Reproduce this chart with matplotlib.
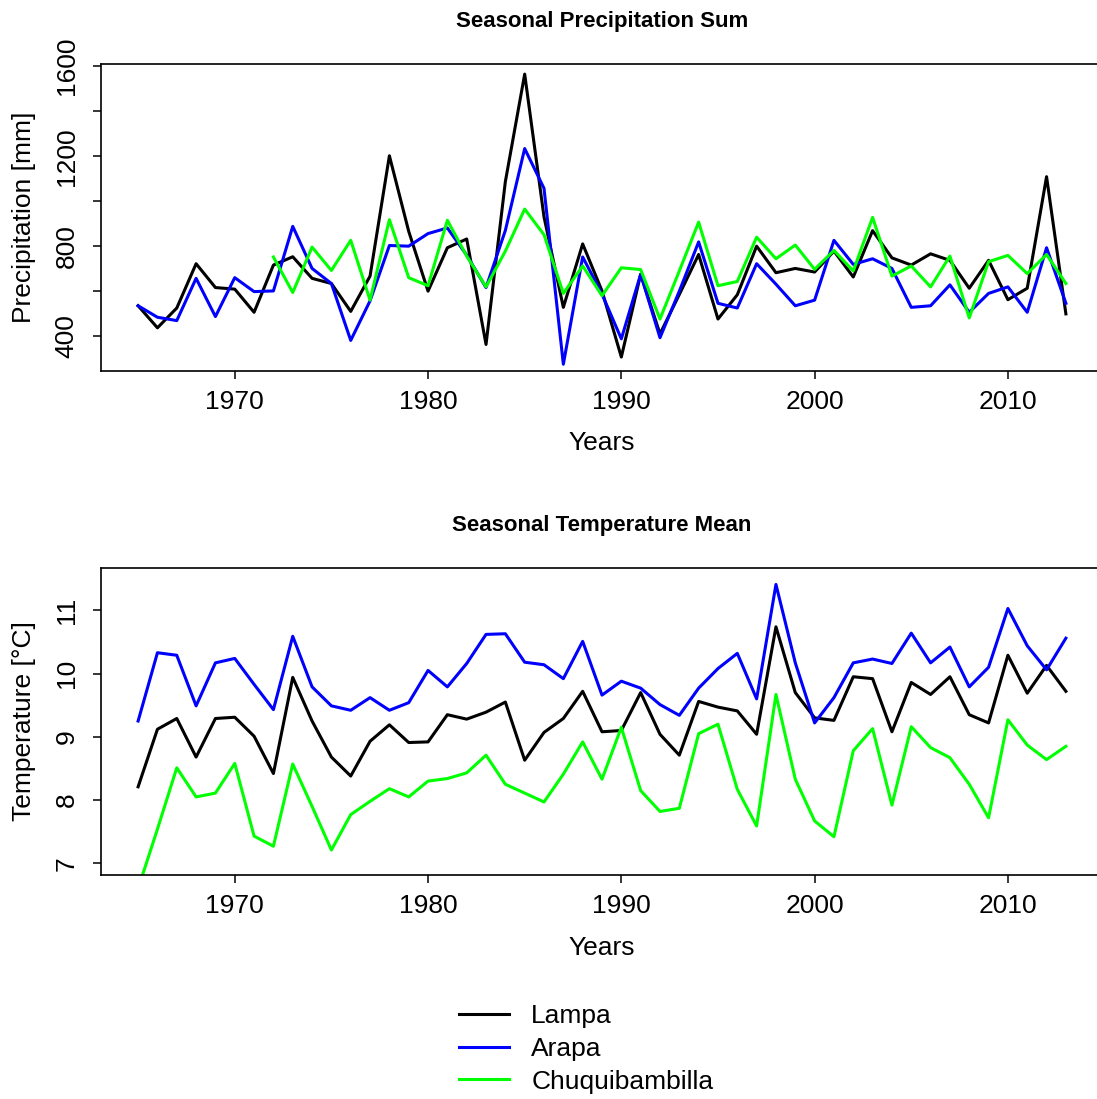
import numpy as np
import matplotlib
matplotlib.use("Agg")
import matplotlib.pyplot as plt

# station names and colours
stations = ["Lampa", "Arapa", "Chuquibambilla"]
colors = ["#000000", "#0000FF", "#00FF00"]

years = list(range(1965, 2014))

# seasonal precipitation sum [mm]
precip_lampa = [535, 437, 525, 722, 616, 609, 506, 716, 753, 657,
                634, 510, 667, 1202, 866, 600, 793, 832, 363, 1087,
                1565, 930, 528, 810, 601, 307, 675, 410, 585, 763,
                476, 584, 800, 682, 701, 685, 778, 663, 869, 748,
                716, 766, 737, 613, 737, 562, 613, 1109, 499]
precip_arapa = [535, 484, 469, 657, 487, 660, 598, 601, 888, 701,
                634, 381, 557, 803, 800, 856, 881, 760, 616, 870,
                1234, 1057, 275, 752, 587, 388, 675, 393, 600, 819,
                546, 525, 722, 631, 535, 560, 826, 719, 744, 701,
                528, 535, 628, 506, 590, 619, 506, 793, 546]
# Chuquibambilla record starts in 1972
precip_chuqui = [np.nan] * 7 + [
                752, 594, 796, 692, 826, 560, 918, 660, 624, 915,
                756, 619, 778, 965, 851, 590, 712, 580, 704, 696,
                476, 690, 907, 624, 643, 840, 744, 805, 697, 781,
                690, 928, 667, 712, 619, 756, 481, 731, 759, 678,
                763, 634]

# seasonal temperature mean [degC]
temp_lampa = [8.21, 9.12, 9.29, 8.68, 9.29, 9.31, 9.01, 8.42, 9.94, 9.25,
              8.68, 8.38, 8.93, 9.19, 8.91, 8.92, 9.35, 9.28, 9.39, 9.55,
              8.63, 9.07, 9.29, 9.72, 9.08, 9.10, 9.70, 9.04, 8.71, 9.56,
              9.47, 9.41, 9.04, 10.74, 9.70, 9.30, 9.26, 9.95, 9.92, 9.08,
              9.86, 9.67, 9.95, 9.35, 9.22, 10.29, 9.69, 10.13, 9.72]
temp_arapa = [9.25, 10.33, 10.29, 9.49, 10.17, 10.24, 9.83, 9.43, 10.59, 9.79,
              9.49, 9.42, 9.62, 9.42, 9.54, 10.05, 9.79, 10.16, 10.62, 10.63,
              10.18, 10.14, 9.92, 10.51, 9.66, 9.88, 9.77, 9.51, 9.34, 9.77,
              10.08, 10.32, 9.60, 11.41, 10.17, 9.22, 9.62, 10.17, 10.23, 10.16,
              10.64, 10.17, 10.42, 9.79, 10.10, 11.03, 10.44, 10.06, 10.56]
temp_chuqui = [6.60, 7.54, 8.51, 8.05, 8.11, 8.58, 7.43, 7.27, 8.57, 7.90,
               7.21, 7.77, 7.98, 8.18, 8.05, 8.30, 8.34, 8.43, 8.71, 8.25,
               8.11, 7.97, 8.41, 8.92, 8.33, 9.15, 8.15, 7.82, 7.87, 9.05,
               9.20, 8.17, 7.59, 9.67, 8.33, 7.67, 7.42, 8.78, 9.13, 7.92,
               9.16, 8.83, 8.67, 8.25, 7.72, 9.27, 8.87, 8.64, 8.85]

x_ticks = [1970, 1980, 1990, 2000, 2010]
precip_ticks = [400, 600, 800, 1000, 1200, 1400, 1600]
precip_labels = ["400", "", "800", "", "1200", "", "1600"]
temp_ticks = [7, 8, 9, 10, 11]

plt.rcParams["font.family"] = ["Liberation Sans", "DejaVu Sans"]

W, H = 1097, 1099
fig = plt.figure(figsize=(W / 100, H / 100), dpi=100)

def px_axes(left, top, right, bottom):
    return fig.add_axes([left / W, 1 - bottom / H, (right - left) / W, (bottom - top) / H])

ax1 = px_axes(101, 64, 1103, 371)
ax2 = px_axes(101, 568, 1103, 875)

panels = [
    (ax1, [precip_lampa, precip_arapa, precip_chuqui], (245, 1610),
     precip_ticks, precip_labels, "Precipitation [mm]", "Seasonal Precipitation Sum", 21, 443),
    (ax2, [temp_lampa, temp_arapa, temp_chuqui], (6.815, 11.67),
     temp_ticks, [str(t) for t in temp_ticks], "Temperature [°C]", "Seasonal Temperature Mean", 526, 948),
]

for ax, series, ylim, yt, ytl, ylab, title, title_y, xlab_y in panels:
    for vals, col, name in zip(series, colors, stations):
        ax.plot(years, vals, color=col, lw=2.2, label=name)
    ax.set_xlim(1963.08, 2014.92)
    ax.set_ylim(*ylim)
    ax.set_xticks(x_ticks)
    ax.set_xticklabels([str(t) for t in x_ticks])
    ax.set_yticks(yt)
    ax.set_yticklabels(ytl, rotation=90, va="center")
    ax.tick_params(direction="out", length=6, width=1.1, labelsize=19, pad=8)
    ax.tick_params(axis="y", pad=10)
    for sp in ax.spines.values():
        sp.set_linewidth(1.2)
    fig.text(602 / W, 1 - title_y / H, title, ha="center", va="center",
             fontsize=16, fontweight="bold")
    fig.text(602 / W, 1 - xlab_y / H, "Years", ha="center", va="center", fontsize=19)
    top_px = 64 if ax is ax1 else 568
    fig.text(24 / W, 1 - (top_px + 153.5) / H, ylab, ha="center", va="center",
             rotation=90, fontsize=19)

handles, labels = ax1.get_legend_handles_labels()
fig.legend(handles, labels, loc="center", bbox_to_anchor=(586 / W, 1 - 1049 / H),
           frameon=False, fontsize=19, handlelength=1.9, handletextpad=0.85,
           labelspacing=0.33)

fig.savefig("out.png", dpi=100)
